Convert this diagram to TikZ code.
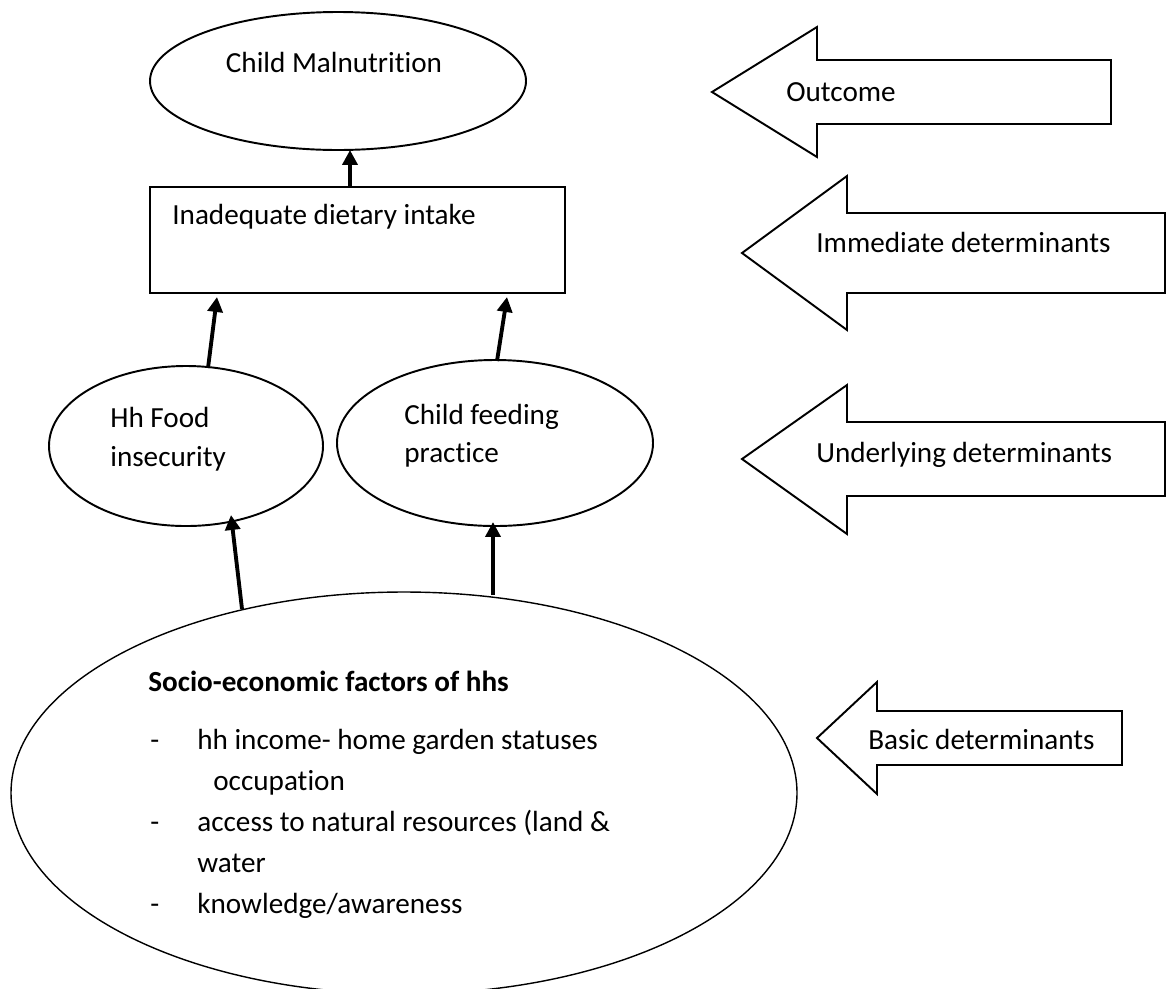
\documentclass[tikz,border=0pt]{standalone}
\usepackage{fontspec}
\setmainfont{Carlito}[Ligatures=NoCommon]
\usetikzlibrary{arrows.meta,shapes.geometric}
\begin{document}
\begin{tikzpicture}[x=0.02cm,y=-0.02cm,font=\fontsize{16.6}{20}\selectfont,
  outline/.style={draw, line width=1.1pt},
  link/.style={line width=2.2pt, -{Triangle[length=8.5pt,width=8.5pt]}},
  txt/.style={anchor=base west, inner sep=0pt}]
\useasboundingbox (0,0) rectangle (1168,988);
% left column
\node[outline, ellipse, minimum width=376*0.02cm, minimum height=138*0.02cm] (mal) at (338,81){};
\node[txt, anchor=base] (maltxt) at (334,72){Child Malnutrition};
\node[outline, rectangle, minimum width=415*0.02cm, minimum height=106*0.02cm] (diet) at (357.5,240){};
\node[txt] (diettxt) at (172,224){Inadequate dietary intake};
\node[outline, ellipse, minimum width=274*0.02cm, minimum height=160*0.02cm] (food) at (186,446){};
\node[txt] (foodtxt1) at (110,427){Hh Food};
\node[txt] (foodtxt2) at (110,466){insecurity};
\node[outline, ellipse, minimum width=316*0.02cm, minimum height=166*0.02cm] (feed) at (495,443){};
\node[txt] (feedtxt1) at (404,424){Child feeding};
\node[txt] (feedtxt2) at (404,462){practice};
\node[outline, line width=0.8pt, ellipse, minimum width=786*0.02cm, minimum height=402*0.02cm] (socio) at (404,793){};
\node[txt] (sociotxt) at (148,691){\textbf{Socio-economic factors of hhs}};
\node[txt] (d1) at (150,749){-};
\node[txt] (s1) at (197,749){hh income- home garden statuses};
\node[txt] (s2) at (213,790){occupation};
\node[txt] (d2) at (150,831){-};
\node[txt] (s3) at (197,831){access to natural resources (land \&};
\node[txt] (s4) at (197,872){water};
\node[txt] (d3) at (150,913){-};
\node[txt] (s5) at (197,913){knowledge/awareness};
% connectors
\coordinate (a0) at (350,187);
\coordinate (b0) at (350,150);
\coordinate (a1) at (208,368);
\coordinate (b1) at (217,297);
\coordinate (a2) at (497,361);
\coordinate (b2) at (507,297);
\coordinate (a3) at (242,609);
\coordinate (b3) at (231,515);
\coordinate (a4) at (493,595);
\coordinate (b4) at (493,522);
\draw[link] (a0) -- (b0);
\draw[link] (a1) -- (b1);
\draw[link] (a2) -- (b2);
\draw[link] (a3) -- (b3);
\draw[link] (a4) -- (b4);
% level arrows
\draw[outline] (712,92) -- (817,27) -- (817,60) -- (1111,60) -- (1111,124) -- (817,124) -- (817,157) -- cycle;
\node[txt] (outtxt) at (786,101){Outcome};
\draw[outline] (742,253) -- (847,176) -- (847,213) -- (1165,213) -- (1165,293) -- (847,293) -- (847,330) -- cycle;
\node[txt] (immtxt) at (816,252){Immediate determinants};
\draw[outline] (742,459) -- (847,385) -- (847,422) -- (1165,422) -- (1165,496) -- (847,496) -- (847,534) -- cycle;
\node[txt] (undtxt) at (816,462){Underlying determinants};
\draw[outline] (817,738) -- (877,682) -- (877,711) -- (1122,711) -- (1122,765) -- (877,765) -- (877,794) -- cycle;
\node[txt] (bastxt) at (868,749){Basic determinants};
\end{tikzpicture}
\end{document}
